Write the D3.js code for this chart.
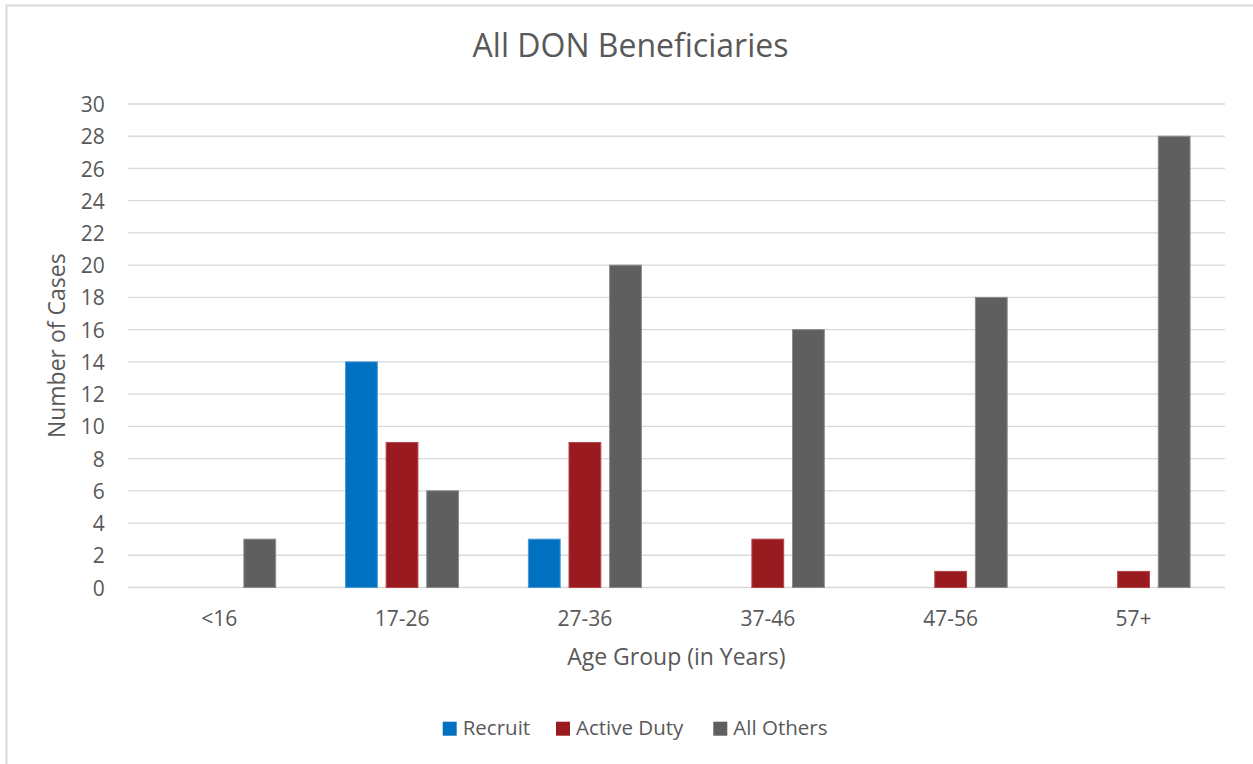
<!DOCTYPE html>
<html>
<head>
<meta charset="utf-8">
<script src="https://cdn.jsdelivr.net/npm/d3@7"></script>
<style>
  html, body { margin: 0; padding: 0; background: #fff; }
  svg { display: block; font-family: "Open Sans", sans-serif; }
</style>
</head>
<body>
<svg id="chart" width="1253" height="764"></svg>
<script>
// Cases by age group and beneficiary type
const categories = ["<16", "17-26", "27-36", "37-46", "47-56", "57+"];
const seriesNames = ["Recruit", "Active Duty", "All Others"];
const recruit    = [0, 14, 3, 0, 0, 0];
const activeDuty = [0, 9, 9, 3, 1, 1];
const allOthers  = [3, 6, 20, 16, 18, 28];
const yTicks = [0, 2, 4, 6, 8, 10, 12, 14, 16, 18, 20, 22, 24, 26, 28, 30];

const seriesValues = [recruit, activeDuty, allOthers];
const fills   = ["#0070C0", "#9A1B1F", "#5F5F60"];
const strokes = ["#4A9AD6", "#B5474B", "#8C8C8C"];
const textColor = "#595959";
const gridColor = "#D9D9D9";

const svg = d3.select("#chart");

// chart frame
svg.append("rect")
  .attr("x", 6.5).attr("y", 5.5)
  .attr("width", 1260).attr("height", 780)
  .attr("fill", "#fff")
  .attr("stroke", gridColor).attr("stroke-width", 2);

const plot = { left: 127.7, right: 1225, top: 104, bottom: 587.5 };

const x = d3.scaleBand()
  .domain(categories)
  .range([plot.left, plot.right])
  .padding(0);

const bw = x.bandwidth();
const xSub = d3.scaleBand()
  .domain(seriesNames)
  .range([bw * 0.191, bw * 0.809])
  .paddingInner(0.217)
  .paddingOuter(0);

const y = d3.scaleLinear()
  .domain([0, 30])
  .range([plot.bottom, plot.top]);

// gridlines
svg.append("g")
  .selectAll("line")
  .data(yTicks)
  .join("line")
  .attr("x1", plot.left).attr("x2", plot.right)
  .attr("y1", d => y(d)).attr("y2", d => y(d))
  .attr("stroke", gridColor)
  .attr("stroke-width", 1.3);

// y tick labels
const yAxis = d3.axisLeft(y).tickValues(yTicks).tickSize(0).tickPadding(0);
const gy = svg.append("g")
  .attr("transform", `translate(${plot.left - 23},0)`)
  .call(yAxis);
gy.select(".domain").remove();
gy.selectAll("text")
  .attr("fill", textColor)
  .attr("font-size", 21)
  .attr("font-family", "Open Sans, sans-serif")
  .attr("dy", "0.36em");

// x tick labels
const xAxis = d3.axisBottom(x).tickSize(0).tickPadding(0);
const gx = svg.append("g")
  .attr("transform", `translate(0,${plot.bottom})`)
  .call(xAxis);
gx.select(".domain").remove();
gx.selectAll("text")
  .attr("fill", textColor)
  .attr("font-size", 21)
  .attr("font-family", "Open Sans, sans-serif")
  .attr("dy", null)
  .attr("y", 38.5);

// bars
const barData = [];
categories.forEach((c, i) => {
  seriesNames.forEach((s, j) => {
    const v = seriesValues[j][i];
    if (v > 0) barData.push({ cat: c, series: s, idx: j, value: v });
  });
});

svg.append("g")
  .selectAll("rect")
  .data(barData)
  .join("rect")
  .attr("x", d => x(d.cat) + xSub(d.series))
  .attr("y", d => y(d.value))
  .attr("width", xSub.bandwidth())
  .attr("height", d => y(0) - y(d.value))
  .attr("fill", d => fills[d.idx])
  .attr("stroke", d => strokes[d.idx])
  .attr("stroke-width", 1);

// title
svg.append("text")
  .attr("x", 630.5).attr("y", 57)
  .attr("text-anchor", "middle")
  .attr("fill", textColor)
  .attr("font-size", 32)
  .text("All DON Beneficiaries");

// axis titles
svg.append("text")
  .attr("x", (plot.left + plot.right) / 2).attr("y", 665)
  .attr("text-anchor", "middle")
  .attr("fill", textColor)
  .attr("font-size", 23)
  .text("Age Group (in Years)");

svg.append("text")
  .attr("transform", `translate(65,${(plot.top + plot.bottom) / 2}) rotate(-90)`)
  .attr("text-anchor", "middle")
  .attr("fill", textColor)
  .attr("font-size", 23)
  .text("Number of Cases");

// legend
const legendX = [442.7, 556, 713.3];
const legend = svg.append("g")
  .selectAll("g")
  .data(seriesNames)
  .join("g")
  .attr("transform", (d, i) => `translate(${legendX[i]},0)`);

legend.append("rect")
  .attr("x", 0).attr("y", 721.7)
  .attr("width", 14).attr("height", 14)
  .attr("fill", (d, i) => fills[i]);

legend.append("text")
  .attr("x", 20).attr("y", 735)
  .attr("fill", textColor)
  .attr("font-size", 20.5)
  .text(d => d);
</script>
</body>
</html>
